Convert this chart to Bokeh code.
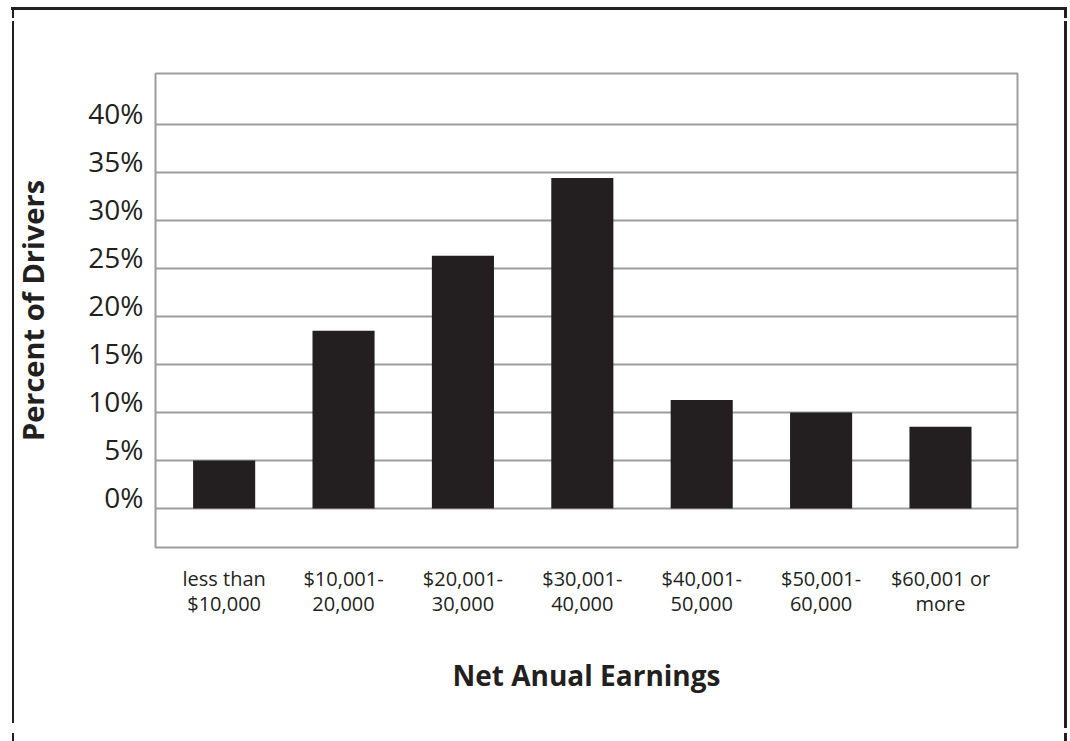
from bokeh.plotting import figure
from bokeh.models import FixedTicker, CustomJSTickFormatter, Range1d, ColumnDataSource
from bokeh.embed import file_html
from bokeh.resources import INLINE

# ---- data ----
categories = ["less than\n$10,000", "$10,001-\n20,000", "$20,001-\n30,000", "$30,001-\n40,000",
              "$40,001-\n50,000", "$50,001-\n60,000", "$60,001 or\nmore"]
percent_drivers = [5.0, 18.5, 26.3, 34.4, 11.3, 10.0, 8.5]
y_ticks = [0, 5, 10, 15, 20, 25, 30, 35, 40]
x_title = "Net Anual Earnings"
y_title = "Percent of Drivers"

DARK = "#231f20"
GRAY = "#9d9d9d"
FONT = "Open Sans"

W, H = 1068, 741
ML, MR, MT, MB = 155, 51, 73, 194

x_pos = list(range(len(categories)))
src = ColumnDataSource(dict(x=x_pos, top=percent_drivers))

p = figure(width=W, height=H, output_backend="svg", toolbar_location=None, title=None,
           x_range=Range1d(-0.575, 6.645), y_range=Range1d(-4.06, 45.27),
           min_border_left=ML, min_border_right=MR, min_border_top=MT, min_border_bottom=MB)
p.background_fill_color = "white"
p.border_fill_color = None
p.outline_line_color = GRAY
p.outline_line_width = 2

p.vbar(x="x", top="top", bottom=0, width=0.52, source=src, fill_color=DARK, line_color=None)

# grid
p.xgrid.visible = False
p.ygrid.ticker = FixedTicker(ticks=y_ticks)
p.ygrid.grid_line_color = GRAY
p.ygrid.grid_line_width = 2

# y axis (labels sit just above their gridline)
label_shift = 1.2
yax = p.yaxis[0]
yax.ticker = FixedTicker(ticks=[t + label_shift for t in y_ticks])
yax.formatter = CustomJSTickFormatter(args=dict(shift=label_shift),
                                      code="return Math.round(tick - shift) + '%';")
yax.axis_line_color = None
yax.major_tick_line_color = None
yax.minor_tick_line_color = None
yax.major_tick_out = 0
yax.major_tick_in = 0
yax.major_label_standoff = 12
yax.major_label_text_font = FONT
yax.major_label_text_font_size = "28px"
yax.major_label_text_color = DARK
yax.axis_label = y_title
yax.axis_label_text_font = FONT
yax.axis_label_text_font_style = "bold"
yax.axis_label_text_font_size = "29px"
yax.axis_label_text_color = DARK
yax.axis_label_standoff = 33

# x axis
xax = p.xaxis[0]
xax.ticker = FixedTicker(ticks=x_pos)
xax.major_label_overrides = {i: c for i, c in enumerate(categories)}
xax.axis_line_color = None
xax.major_tick_line_color = None
xax.minor_tick_line_color = None
xax.major_tick_out = 0
xax.major_tick_in = 0
xax.major_label_standoff = 17
xax.major_label_text_font = FONT
xax.major_label_text_font_size = "20px"
xax.major_label_text_line_height = 0.96
xax.major_label_text_color = DARK
xax.axis_label = x_title
xax.axis_label_text_font = FONT
xax.axis_label_text_font_style = "bold"
xax.axis_label_text_font_size = "28px"
xax.axis_label_text_color = DARK
xax.axis_label_standoff = 36

# outer frame lines (page decoration), painted as CSS background layers
# (width, height, left, top) in pixels
frame_pieces = [
    (1056, 3, 11, 7),     # top
    (2, 11, 12, 7),       # left, top piece
    (2, 702, 12, 21),     # left, main
    (2, 8, 12, 733),      # left, bottom piece
    (3, 11, 1064, 7),     # right, top piece
    (3, 707, 1064, 21),   # right, main
    (3, 8, 1064, 733),    # right, bottom piece
]
p.styles = {
    "background-image": ", ".join([f"linear-gradient({DARK}, {DARK})"] * len(frame_pieces)),
    "background-size": ", ".join(f"{w}px {h}px" for w, h, _, _ in frame_pieces),
    "background-position": ", ".join(f"{l}px {t}px" for _, _, l, t in frame_pieces),
    "background-repeat": "no-repeat",
}

open("out.html", "w").write(file_html(p, INLINE))
